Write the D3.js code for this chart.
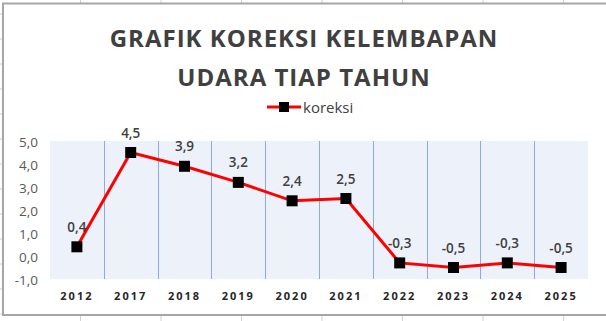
<!DOCTYPE html>
<html>
<head>
<meta charset="utf-8">
<script src="https://cdn.jsdelivr.net/npm/d3@7"></script>
<style>
  body { margin: 0; background: #fff; }
  svg { display: block; font-family: "Open Sans", "Noto Sans", sans-serif; }
</style>
</head>
<body>
<svg id="chart"></svg>
<script>
// chart data
const years = ["2012", "2017", "2018", "2019", "2020", "2021", "2022", "2023", "2024", "2025"];
const koreksi = [0.4, 4.5, 3.9, 3.2, 2.4, 2.5, -0.3, -0.5, -0.3, -0.5];
const yTicks = [-1, 0, 1, 2, 3, 4, 5];
const titleLines = ["GRAFIK KOREKSI KELEMBAPAN", "UDARA TIAP TAHUN"];
const seriesName = "koreksi";

const width = 606, height = 321;
const svg = d3.select("#chart").attr("width", width).attr("height", height);

// faint spreadsheet cell lines peeking outside the chart
const cellX = d3.range(80.5, width, 80.5);
svg.selectAll("line.cellTop").data(cellX).enter().append("line")
    .attr("x1", d => d).attr("x2", d => d).attr("y1", 0).attr("y2", 3)
    .attr("stroke", "#d0d0d0");
svg.selectAll("line.cellBot").data(cellX).enter().append("line")
    .attr("x1", d => d).attr("x2", d => d).attr("y1", 316).attr("y2", height)
    .attr("stroke", "#d0d0d0");
svg.selectAll("line.cellLeft").data(d3.range(14, height, 25)).enter().append("line")
    .attr("x1", 0).attr("x2", 2).attr("y1", d => d).attr("y2", d => d)
    .attr("stroke", "#d0d0d0");

// chart border (top, left, bottom)
svg.append("path")
    .attr("d", `M${width},3.5 H3 V315 H${width}`)
    .attr("fill", "none")
    .attr("stroke", "#a6a6a6")
    .attr("stroke-width", 2);

// plot area
const plot = { left: 50, right: 588, top: 141, bottom: 279 };

const x = d3.scaleBand().domain(years).range([plot.left, plot.right]);
const y = d3.scaleLinear().domain([-1, 5]).range([plot.bottom, plot.top]);

svg.append("rect")
    .attr("x", plot.left).attr("y", plot.top)
    .attr("width", plot.right - plot.left).attr("height", plot.bottom - plot.top)
    .attr("fill", "#edf2fa");

// vertical gridlines between categories
svg.selectAll("line.vgrid")
    .data(years.slice(1))
    .enter().append("line")
    .attr("x1", d => Math.round(x(d)) + 0.5)
    .attr("x2", d => Math.round(x(d)) + 0.5)
    .attr("y1", plot.top).attr("y2", plot.bottom)
    .attr("stroke", "#8eaadb")
    .attr("stroke-width", 1);

// title
svg.selectAll("text.title")
    .data(titleLines)
    .enter().append("text")
    .attr("x", 304)
    .attr("y", (d, i) => 47 + i * 39)
    .attr("text-anchor", "middle")
    .attr("font-size", 24)
    .attr("font-weight", 700)
    .attr("letter-spacing", 1)
    .attr("fill", "#404040")
    .text(d => d);

// legend
const legend = svg.append("g").attr("transform", "translate(267,107)");
legend.append("line").attr("x1", 0).attr("x2", 34).attr("y1", 0).attr("y2", 0)
    .attr("stroke", "#ff0000").attr("stroke-width", 3);
legend.append("rect").attr("x", 12).attr("y", -5).attr("width", 10).attr("height", 10)
    .attr("fill", "#000");
legend.append("text").attr("x", 36).attr("y", 5.5)
    .attr("font-size", 15).attr("fill", "#404040")
    .text(seriesName);

// y axis labels
const yAxis = d3.axisLeft(y).tickValues(yTicks).tickSize(0).tickPadding(12)
    .tickFormat(d => d3.format(".1f")(d).replace(".", ",").replace("−", "-"));
svg.append("g")
    .attr("transform", `translate(${plot.left},0)`)
    .call(yAxis)
    .call(g => g.select(".domain").remove())
    .call(g => g.selectAll("text")
        .attr("font-family", "\"Open Sans\", sans-serif")
        .attr("font-size", 13.5).attr("fill", "#595959").attr("dy", "0.38em"));

// x axis labels
const xAxis = d3.axisBottom(x).tickSize(0).tickPadding(13);
svg.append("g")
    .attr("transform", `translate(0,${plot.bottom})`)
    .call(xAxis)
    .call(g => g.select(".domain").remove())
    .call(g => g.selectAll("text")
        .attr("font-family", "\"Open Sans\", sans-serif")
        .attr("font-size", 11).attr("font-weight", 700)
        .attr("letter-spacing", 2).attr("fill", "#262626"));

// series line
const line = d3.line()
    .x((d, i) => x(years[i]) + x.bandwidth() / 2)
    .y(d => y(d));

svg.append("path")
    .datum(koreksi)
    .attr("fill", "none")
    .attr("stroke", "#ff0000")
    .attr("stroke-width", 3)
    .attr("d", line);

// markers
const ms = 11;
svg.selectAll("rect.marker")
    .data(koreksi)
    .enter().append("rect")
    .attr("x", (d, i) => x(years[i]) + x.bandwidth() / 2 - ms / 2)
    .attr("y", d => y(d) - ms / 2)
    .attr("width", ms).attr("height", ms)
    .attr("fill", "#000");

// data labels
svg.selectAll("text.label")
    .data(koreksi)
    .enter().append("text")
    .attr("x", (d, i) => x(years[i]) + x.bandwidth() / 2)
    .attr("y", d => y(d) - 15)
    .attr("text-anchor", "middle")
    .attr("font-size", 13.5)
    .attr("font-weight", 600)
    .attr("fill", "#404040")
    .text(d => d3.format(".1f")(d).replace(".", ",").replace("−", "-"));
</script>
</body>
</html>
